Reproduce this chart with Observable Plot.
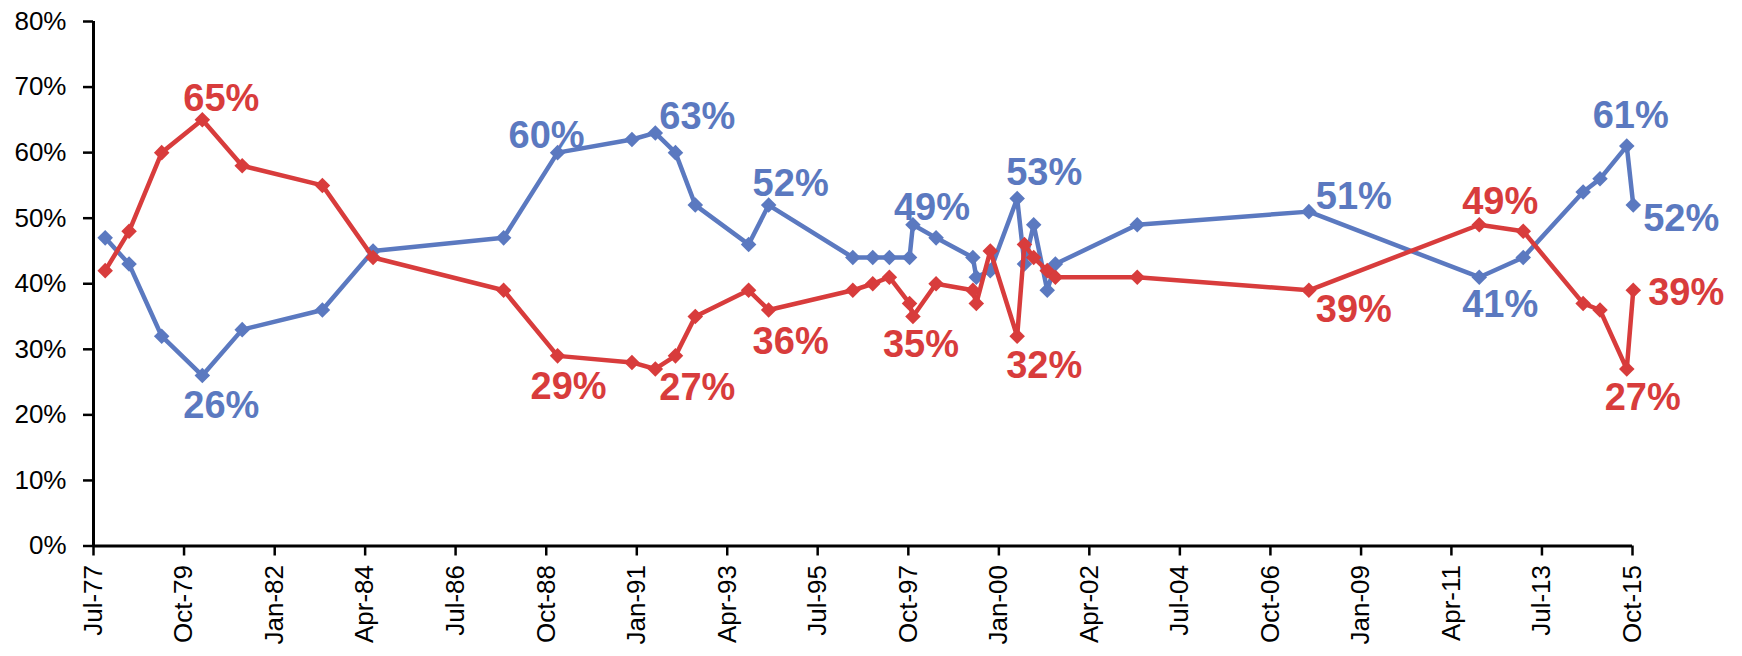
<!DOCTYPE html>
<html>
<head>
<meta charset="utf-8">
<script src="https://cdn.jsdelivr.net/npm/d3@7"></script>
<script src="https://cdn.jsdelivr.net/npm/@observablehq/plot@0.6"></script>
<style>
  html, body { margin: 0; padding: 0; background: #fff; }
  #chart svg { display: block; }
</style>
</head>
<body>
<div id="chart"></div>
<script>
// Survey dates (approximate)
const dates = [
  "1977-10-15", "1978-05-20", "1979-03-12", "1980-03-15", "1981-03-12",
  "1983-03-10", "1984-06-12", "1987-09-10", "1989-01-12", "1990-11-18",
  "1991-06-18", "1991-12-18", "1992-06-15", "1993-10-12", "1994-04-12",
  "1996-05-15", "1996-11-12", "1997-04-12", "1997-10-12", "1997-11-12",
  "1998-06-10", "1999-05-10", "1999-06-10", "1999-10-15", "2000-06-15",
  "2000-08-20", "2000-11-12", "2001-03-15", "2001-05-28", "2003-06-10",
  "2007-09-15", "2011-12-10", "2013-01-12", "2014-07-10", "2014-12-10",
  "2015-08-10", "2015-10-08"
];
// Blue series (%)
const blueValues = [
  47, 43, 32, 26, 33, 36, 45, 47, 60, 62,
  63, 60, 52, 46, 52, 44, 44, 44, 44, 49,
  47, 44, 41, 42, 53, 43, 49, 39, 43, 49,
  51, 41, 44, 54, 56, 61, 52
];
// Red series (%)
const redValues = [
  42, 48, 60, 65, 58, 55, 44, 39, 29, 28,
  27, 29, 35, 39, 36, 39, 40, 41, 37, 35,
  40, 39, 37, 45, 32, 46, 44, 42, 41, 41,
  39, 49, 48, 37, 36, 27, 39
];
// X tick labels
const xTickLabels = [
  "Jul-77", "Oct-79", "Jan-82", "Apr-84", "Jul-86", "Oct-88", "Jan-91", "Apr-93", "Jul-95",
  "Oct-97", "Jan-00", "Apr-02", "Jul-04", "Oct-06", "Jan-09", "Apr-11", "Jul-13", "Oct-15"
];
// Y tick values (%)
const yTicks = [0, 10, 20, 30, 40, 50, 60, 70, 80];
// Labelled points: series, point index
const labelledPoints = [
  ["red", 3], ["red", 8], ["red", 10], ["red", 14], ["red", 19], ["red", 24],
  ["red", 30], ["red", 31], ["red", 35], ["red", 36],
  ["blue", 3], ["blue", 8], ["blue", 10], ["blue", 14], ["blue", 19], ["blue", 24],
  ["blue", 30], ["blue", 31], ["blue", 35], ["blue", 36]
];
// Label nudges (pixels, relative to the point), same order as labelledPoints
const labelNudges = [
  [19, -21], [11, 31], [42, 19], [22, 32], [8, 28], [27, 30],
  [45, 20], [21, -23], [16, 29], [53, 3],
  [19, 30], [-11, -17], [42, -16], [22, -21], [19, -17], [27, -26],
  [45, -15], [21, 28], [4, -30], [48, 14]
];

const BLUE = "#5b79c0";
const RED = "#d83c3c";
const FONT = "Liberation Sans, Arial, sans-serif";

const parseDate = d3.utcParse("%Y-%m-%d");
const parseTick = d3.utcParse("%b-%y");
const tickDates = xTickLabels.map(parseTick);

const blue = dates.map((d, i) => ({date: parseDate(d), value: blueValues[i]}));
const red = dates.map((d, i) => ({date: parseDate(d), value: redValues[i]}));
const seriesData = {blue, red};
const seriesColor = {blue: BLUE, red: RED};

const labelMarks = labelledPoints.map(([s, i], k) => {
  const p = seriesData[s][i];
  return Plot.text([p], {
    x: "date", y: "value",
    text: d => `${d.value}%`,
    fill: seriesColor[s],
    fontSize: 38, fontWeight: "bold",
    dx: labelNudges[k][0], dy: labelNudges[k][1],
    textAnchor: "middle", lineAnchor: "middle"
  });
});

const chart = Plot.plot({
  width: 1742,
  height: 656,
  marginLeft: 93,
  marginRight: 110,
  marginTop: 21,
  marginBottom: 110.5,
  style: {fontFamily: FONT, background: "#fff", overflow: "visible"},
  x: {type: "utc", domain: [tickDates[0], tickDates[tickDates.length - 1]]},
  y: {domain: [0, 80]},
  marks: [
    Plot.axisY({
      ticks: yTicks, tickFormat: d => `${d}%`,
      tickSize: 10, tickPadding: 17, fontSize: 26,
      stroke: "#000", strokeWidth: 2.5, color: "#000", label: null
    }),
    Plot.axisX({
      ticks: tickDates, tickFormat: d3.utcFormat("%b-%y"),
      tickRotate: -90, tickSize: 10, tickPadding: 9, fontSize: 26,
      stroke: "#000", strokeWidth: 2.5, color: "#000", label: null
    }),
    Plot.ruleY([0], {stroke: "#000", strokeWidth: 3}),
    Plot.ruleX([tickDates[0]], {stroke: "#000", strokeWidth: 3}),
    Plot.line(blue, {x: "date", y: "value", stroke: BLUE, strokeWidth: 4.5}),
    Plot.dot(blue, {x: "date", y: "value", symbol: "diamond2", r: 7, fill: BLUE}),
    Plot.line(red, {x: "date", y: "value", stroke: RED, strokeWidth: 4.5}),
    Plot.dot(red, {x: "date", y: "value", symbol: "diamond2", r: 7, fill: RED}),
    ...labelMarks
  ]
});

document.getElementById("chart").appendChild(chart);
</script>
</body>
</html>
